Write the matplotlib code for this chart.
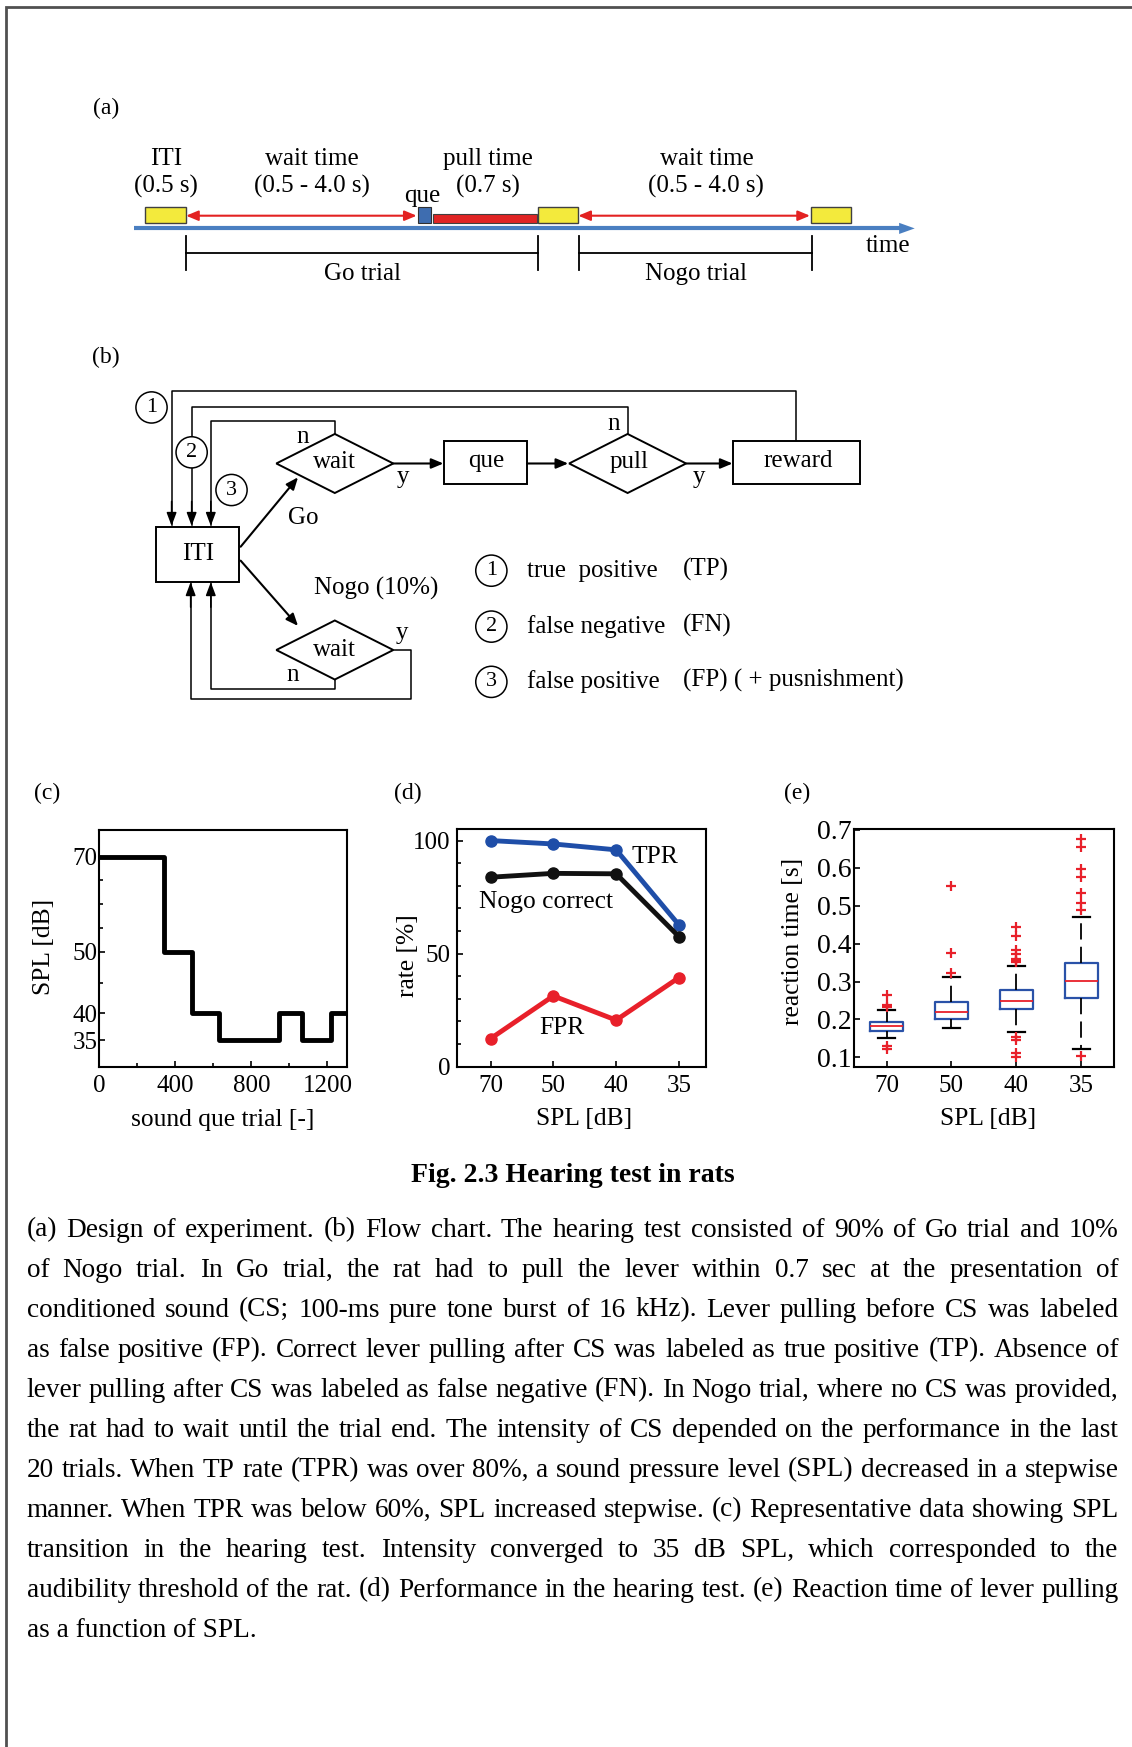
import matplotlib
matplotlib.use('Agg')
import numpy as np
import matplotlib.pyplot as plt
from matplotlib.patches import Rectangle, Polygon, Circle

plt.rcParams['font.family'] = ['Liberation Serif', 'DejaVu Serif']

W, H = 1016, 1568  # page units used for the layout

# (c) SPL transition during the session
trial_edges = [0, 339, 488, 628, 944, 1067, 1216, 1300]
spl_steps = [70, 50, 40, 35, 40, 35, 40, 40]

# (d) performance
spl_labels = ['70', '50', '40', '35']
tpr = [100, 98.5, 95.9, 62.7]
nogo_correct = [83.8, 85.5, 85.3, 57.5]
fpr = [12.4, 31.3, 20.6, 39.4]

# (e) reaction time boxplot statistics
rt_q1 = [0.170, 0.201, 0.228, 0.257]
rt_med = [0.183, 0.219, 0.250, 0.301]
rt_q3 = [0.194, 0.245, 0.277, 0.350]
rt_lo = [0.150, 0.177, 0.168, 0.121]
rt_hi = [0.225, 0.313, 0.341, 0.471]
rt_fliers = [[0.264, 0.238, 0.232, 0.130, 0.123],
             [0.551, 0.375, 0.323],
             [0.445, 0.421, 0.383, 0.373, 0.359, 0.355, 0.352, 0.155, 0.147, 0.111, 0.102],
             [0.675, 0.656, 0.597, 0.575, 0.533, 0.506, 0.489, 0.104]]

caption_lines = [
    "(a) Design of experiment. (b) Flow chart. The hearing test consisted of 90% of Go trial and 10%",
    "of Nogo trial. In Go trial, the rat had to pull the lever within 0.7 sec at the presentation of",
    "conditioned sound (CS; 100-ms pure tone burst of 16 kHz). Lever pulling before CS was labeled",
    "as false positive (FP). Correct lever pulling after CS was labeled as true positive (TP). Absence of",
    "lever pulling after CS was labeled as false negative (FN). In Nogo trial, where no CS was provided,",
    "the rat had to wait until the trial end. The intensity of CS depended on the performance in the last",
    "20 trials. When TP rate (TPR) was over 80%, a sound pressure level (SPL) decreased in a stepwise",
    "manner. When TPR was below 60%, SPL increased stepwise. (c) Representative data showing SPL",
    "transition in the hearing test. Intensity converged to 35 dB SPL, which corresponded to the",
    "audibility threshold of the rat. (d) Performance in the hearing test. (e) Reaction time of lever pulling",
    "as a function of SPL.",
]

FS = 18      # diagram text
TS = 18      # tick labels
LS = 18.4    # axis labels

fig = plt.figure(figsize=(11.32, 17.47), dpi=100)
ax0 = fig.add_axes([0, 0, 1, 1])
ax0.set_xlim(0, W)
ax0.set_ylim(H, 0)
ax0.axis('off')

# page border (top and left)
ax0.plot([5, 5, W], [H, 6, 6], color='#505050', lw=2, solid_joinstyle='miter')


def txt(x, y, s, size=FS, **kw):
    ax0.text(x, y, s, fontsize=size, ha=kw.pop('ha', 'center'), va=kw.pop('va', 'center'), **kw)


def arrow(x0, y0, x1, y1, style='-|>', color='k', lw=1.2, ms=14, hl=0.6, hw=0.25):
    ax0.annotate('', xy=(x1, y1), xytext=(x0, y0),
                 arrowprops=dict(arrowstyle=f'{style},head_length={hl},head_width={hw}',
                                 color=color, lw=lw, shrinkA=0, shrinkB=0, mutation_scale=ms))


# ---------------- (a) ----------------
txt(95, 97, '(a)', 17)
ax0.plot([120, 809], [205, 205], color='#4a7fc1', lw=3, solid_capstyle='butt')
ax0.add_patch(Polygon([(807, 200), (821, 205), (807, 210)], closed=True, fc='#4a7fc1', ec='none'))
for bx in [130.5, 483, 728]:
    ax0.add_patch(Rectangle((bx, 186), 36, 14, fc='#f3ea3c', ec='#404040', lw=1, zorder=3))
ax0.add_patch(Rectangle((375, 186), 12, 14, fc='#3e6db0', ec='#303030', lw=0.8, zorder=3))
ax0.add_patch(Rectangle((389, 192), 93, 8, fc='#e02424', ec='#404040', lw=0.8, zorder=3))
arrow(167, 193.6, 374, 193.6, style='<|-|>', color='#e32222', lw=1.5, ms=12)
arrow(519, 193.6, 727, 193.6, style='<|-|>', color='#e32222', lw=1.5, ms=12)
for xa, xb in [(167, 483), (520, 729)]:
    ax0.plot([xa, xa], [212, 242], color='k', lw=1.3)
    ax0.plot([xb, xb], [212, 242], color='k', lw=1.3)
    ax0.plot([xa, xb], [227, 227], color='k', lw=1.3)
txt(149, 143, 'ITI')
txt(149, 167, '(0.5 s)')
txt(280, 143, 'wait time')
txt(280, 167, '(0.5 - 4.0 s)')
txt(379, 176, 'que')
txt(438, 143, 'pull time')
txt(438, 167, '(0.7 s)')
txt(634, 143, 'wait time')
txt(634, 167, '(0.5 - 4.0 s)')
txt(797, 221, 'time')
txt(325, 246, 'Go trial')
txt(625, 246, 'Nogo trial')

# ---------------- (b) ----------------
txt(95, 321, '(b)', 17)
LW = 1.1


def diamond(cx, cy, w=105, h=53):
    ax0.add_patch(Polygon([(cx - w / 2, cy), (cx, cy - h / 2), (cx + w / 2, cy), (cx, cy + h / 2)],
                          closed=True, fc='white', ec='k', lw=1.4, zorder=3))


def box(x0, y0, x1, y1):
    ax0.add_patch(Rectangle((x0, y0), x1 - x0, y1 - y0, fc='white', ec='k', lw=1.4, zorder=3))


# feedback loops to ITI
ax0.plot([714, 714, 154, 154], [396.4, 350.6, 350.6, 471], color='k', lw=LW)
ax0.plot([563.3, 563.3, 172, 172], [389.5, 365.6, 365.6, 471], color='k', lw=LW)
ax0.plot([300.5, 300.5, 189.2, 189.2], [389.5, 377.9, 377.9, 471], color='k', lw=LW)
for xl in [154, 172, 189.2]:
    arrow(xl, 450, xl, 472, lw=LW, ms=10, hl=0.8, hw=0.3)
ax0.plot([300.5, 300.5, 189.2, 189.2], [609.7, 618.4, 618.4, 522], color='k', lw=LW)
ax0.plot([353, 368.7, 368.7, 171.1, 171.1], [583.4, 583.4, 627.6, 627.6, 522], color='k', lw=LW)
for xl in [171.1, 189.2]:
    arrow(xl, 545, xl, 522.5, lw=LW, ms=10, hl=0.8, hw=0.3)

box(140.3, 472.7, 214.6, 522.1)
txt(178, 497, 'ITI')
diamond(300.5, 416)
txt(300.5, 415, 'wait')
box(398.5, 395.8, 472.9, 434.4)
txt(436, 414, 'que')
diamond(563.3, 416)
txt(565, 415, 'pull')
box(657.8, 395.8, 772.2, 434.4)
txt(716, 414, 'reward')
diamond(300.5, 583.4)
txt(300.5, 583, 'wait')

arrow(353, 416, 398, 416, lw=1.5, ms=12)
arrow(473, 416, 510, 416, lw=1.5, ms=12)
arrow(616, 416, 657.5, 416, lw=1.5, ms=12)
arrow(216, 490.7, 267.5, 428.4, lw=1.5, ms=12)
arrow(216, 503.2, 267.5, 561.8, lw=1.5, ms=12)

txt(272, 392, 'n')
txt(551, 381, 'n')
txt(362, 428, 'y')
txt(627, 428, 'y')
txt(272, 465, 'Go')
txt(338, 528, 'Nogo (10%)')
txt(361, 568, 'y')
txt(263, 606, 'n')

for num, (cx, cy) in enumerate([(136, 365.7), (172, 406), (207.8, 439.8)], start=1):
    ax0.add_patch(Circle((cx, cy), 14, fc='white', ec='k', lw=1.1, zorder=4))
    ax0.text(cx, cy, str(num), fontsize=16, ha='center', va='center', zorder=5)

legend_rows = [('true  positive', '(TP)'), ('false negative', '(FN)'),
               ('false positive', '(FP) ( + pusnishment)')]
for num, (yy, (a, b)) in enumerate(zip([512.2, 562.4, 612], legend_rows), start=1):
    ax0.add_patch(Circle((441, yy), 14, fc='white', ec='k', lw=1.1, zorder=4))
    ax0.text(441, yy, str(num), fontsize=16, ha='center', va='center', zorder=5)
    txt(473, yy, a, ha='left')
    txt(613, yy - 1, b, ha='left')


# ---------------- panels (c) (d) (e) ----------------
def page_axes(x0, y0, x1, y1):
    return fig.add_axes([x0 / W, 1 - y1 / H, (x1 - x0) / W, (y1 - y0) / H])


def style_axes(ax):
    for sp in ax.spines.values():
        sp.set_linewidth(1.5)
    ax.tick_params(which='both', direction='in', width=1.2, labelsize=TS, top=False, right=False)
    ax.tick_params(which='major', length=4)
    ax.tick_params(which='minor', length=3)


txt(42, 712, '(c)', 17)
txt(366, 712, '(d)', 17)
txt(715, 712, '(e)', 17)

# (c)
c_anchor_db = [30, 35, 40, 50, 70, 76]
c_anchor_pos = [0, 80, 160, 345, 630, 710]
axc = page_axes(89, 745, 311, 957.4)
axc.set_yscale('function', functions=(lambda v: np.interp(v, c_anchor_db, c_anchor_pos),
                                      lambda p: np.interp(p, c_anchor_pos, c_anchor_db)))
axc.step(trial_edges, spl_steps, where='post', color='k', lw=3.5)
axc.set_xlim(0, 1300)
axc.set_ylim(30, 76)
axc.set_xticks([0, 400, 800, 1200], ['0', '400', '800', '1200'])
axc.set_xticks([200, 600, 1000], minor=True)
axc.set_yticks([35, 40, 50, 70], ['35', '40', '50', '70'])
axc.set_yticks([45, 55, 60, 65], [], minor=True)
style_axes(axc)
axc.tick_params(axis='y', pad=1)
axc.tick_params(axis='x', pad=6)
axc.set_xlabel('sound que trial [-]', fontsize=LS, va='center')
axc.xaxis.set_label_coords(0.5, -0.224)
axc.set_ylabel('SPL [dB]', fontsize=LS, va='center')
axc.yaxis.set_label_coords(-0.221, 0.505)

# (d)
xpos = np.arange(1, 5)
axd = page_axes(410.4, 744.3, 633.6, 957.4)
axd.plot(xpos, tpr, '-o', color='#1f4ea8', lw=3.5, ms=8)
axd.plot(xpos, nogo_correct, '-o', color='#111111', lw=3.5, ms=8)
axd.plot(xpos, fpr, '-o', color='#e8202a', lw=3.5, ms=8)
axd.set_xlim(0.47, 4.43)
axd.set_ylim(0, 105)
axd.set_xticks(xpos, spl_labels)
axd.set_yticks([0, 50, 100])
axd.set_yticks(np.arange(10, 100, 10), minor=True)
style_axes(axd)
axd.tick_params(axis='y', pad=5)
axd.tick_params(axis='x', pad=6)
axd.text(3.62, 92.8, 'TPR', fontsize=LS, ha='center', va='center')
axd.text(1.89, 73, 'Nogo correct', fontsize=LS, ha='center', va='center')
axd.text(2.13, 17.3, 'FPR', fontsize=LS, ha='center', va='center')
axd.set_xlabel('SPL [dB]', fontsize=LS, va='center')
axd.xaxis.set_label_coords(0.509, -0.219)
axd.set_ylabel('rate [%]', fontsize=LS, va='center')
axd.yaxis.set_label_coords(-0.199, 0.467)

# (e)
axe = page_axes(766.5, 744, 999.8, 957.4)
stats = [dict(med=m, q1=a, q3=b, whislo=lo, whishi=hi, fliers=f)
         for m, a, b, lo, hi, f in zip(rt_med, rt_q1, rt_q3, rt_lo, rt_hi, rt_fliers)]
axe.bxp(stats, positions=xpos, widths=0.5, capwidths=0.26, manage_ticks=False,
        boxprops=dict(color='#2a52a8', lw=1.6),
        medianprops=dict(color='#e8202a', lw=1.3),
        whiskerprops=dict(color='k', lw=1.3, linestyle=(0, (9, 4))),
        capprops=dict(color='k', lw=1.6),
        flierprops=dict(marker='+', markeredgecolor='#e8202a', markersize=7, mew=1.6, linestyle='none'))
axe.set_xlim(0.5, 4.5)
axe.set_ylim(0.0754, 0.7026)
axe.set_xticks(xpos, spl_labels)
axe.set_yticks(np.round(np.arange(0.1, 0.75, 0.1), 1))
axe.set_yticklabels(['0.1', '0.2', '0.3', '0.4', '0.5', '0.6', '0.7'])
style_axes(axe)
axe.tick_params(axis='y', pad=2, labelsize=20)
axe.tick_params(axis='x', pad=6)
axe.set_xlabel('SPL [dB]', fontsize=LS, va='center')
axe.xaxis.set_label_coords(0.5165, -0.219)
axe.set_ylabel('reaction time [s]', fontsize=LS, va='center')
axe.yaxis.set_label_coords(-0.234, 0.527)

# ---------------- title and caption ----------------
txt(514, 1055, 'Fig. 2.3 Hearing test in rats', 20, fontweight='bold')

fig.canvas.draw()
rend = fig.canvas.get_renderer()
u_per_px = W / fig.bbox.width
X0, X1 = 24, 1004

base = 18
widest = 0
for line in caption_lines[:-1]:
    t = ax0.text(0, 0, line, fontsize=base)
    widest = max(widest, t.get_window_extent(rend).width * u_per_px)
    t.remove()
cap_size = base * (X1 - X0) / widest

for i, line in enumerate(caption_lines):
    y = 1104 + i * 35.9
    if i == len(caption_lines) - 1:
        ax0.text(X0, y, line, fontsize=cap_size, ha='left', va='center')
        continue
    words = line.split(' ')
    ts = [ax0.text(0, y, w, fontsize=cap_size, ha='left', va='center') for w in words]
    widths = [t.get_window_extent(rend).width * u_per_px for t in ts]
    gap = (X1 - X0 - sum(widths)) / (len(words) - 1)
    x = X0
    for t, w in zip(ts, widths):
        t.set_x(x)
        x += w + gap

fig.savefig('out.png', dpi=100, facecolor='white')
